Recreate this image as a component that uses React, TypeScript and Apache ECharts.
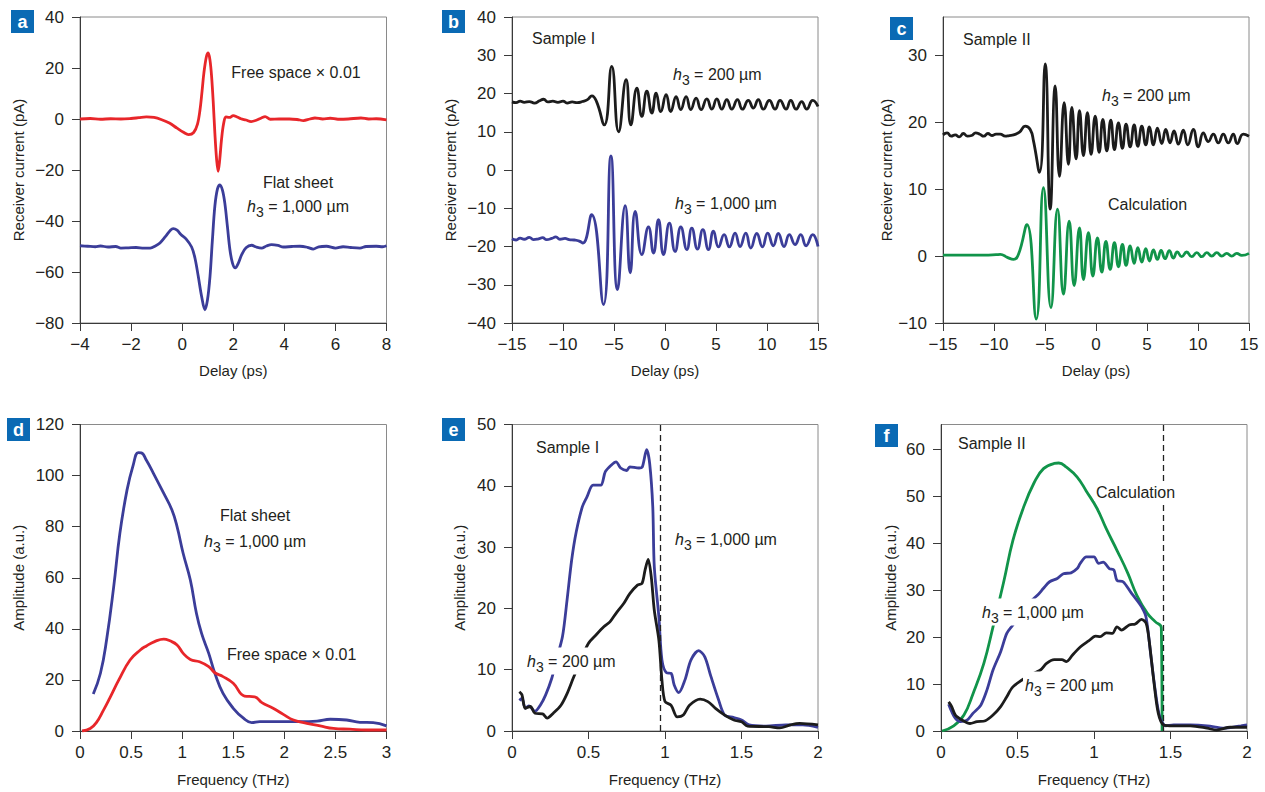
import React, { useEffect, useRef } from 'react';
import * as echarts from 'echarts';

// ---------- data ----------
const aRed: number[][] = [[-4,0],[-3.6,0.2],[-3.2,-0.1],[-2.8,0.1],[-2.4,0],[-2,0.2],[-1.7,0.5],[-1.4,0.8],[-1.1,0.6],[-0.8,-0.3],[-0.5,-1.6],[-0.2,-3.6],[0.05,-5.2],[0.25,-6.1],[0.45,-5.3],[0.6,-2],[0.7,3.7],[0.78,11],[0.85,18],[0.95,24.5],[1.02,25.9],[1.09,23],[1.15,17],[1.22,6],[1.28,-5.5],[1.35,-16],[1.41,-20.5],[1.47,-16],[1.54,-8.1],[1.62,-2],[1.71,0.8],[1.85,0.6],[2.0,1.3],[2.15,0.8],[2.3,0.1],[2.5,-0.4],[2.7,-1.0],[2.9,-0.5],[3.1,0.4],[3.25,0.9],[3.45,-0.1],[3.8,0],[4.2,0],[4.5,-0.2],[4.75,-0.6],[5.0,0],[5.2,0.4],[5.5,0],[5.8,0.3],[6.1,-0.1],[6.5,0],[7.0,0.4],[7.3,0],[7.6,0.1],[8,-0.3]];
const aBlue: number[][] = [[-4,-49.7],[-3.7,-49.9],[-3.4,-50.1],[-3.2,-49.8],[-2.9,-50.2],[-2.6,-50.0],[-2.4,-50.6],[-2.1,-50.5],[-1.8,-50.4],[-1.5,-50.6],[-1.25,-50.6],[-1.05,-49.8],[-0.87,-48.6],[-0.65,-46],[-0.45,-43.5],[-0.35,-43],[-0.2,-43.6],[-0.05,-45.3],[0.15,-47],[0.37,-50.2],[0.5,-54.5],[0.63,-61.7],[0.76,-69.5],[0.89,-74.8],[0.99,-71],[1.09,-61.7],[1.18,-48],[1.28,-34.2],[1.38,-27.5],[1.48,-25.8],[1.58,-28],[1.67,-33],[1.77,-42],[1.87,-51.3],[1.97,-56.5],[2.08,-58.4],[2.2,-56.5],[2.33,-53.2],[2.5,-50.5],[2.72,-49.5],[2.9,-50.2],[3.11,-50.6],[3.3,-49.8],[3.5,-49.3],[3.75,-49.6],[3.96,-50.2],[4.3,-50.0],[4.61,-49.9],[4.9,-50.3],[5.13,-51],[5.35,-50.1],[5.65,-49.9],[6.0,-50.6],[6.3,-50.1],[6.6,-50.4],[6.96,-50.6],[7.2,-50.0],[7.6,-49.9],[7.85,-50.1],[8,-49.7]];

const bBlack: number[][] = [[-15,17.8],[-14.6,17.6],[-14.2,18.0],[-13.8,17.7],[-13.3,17.9],[-12.8,17.5],[-12.3,18.1],[-11.9,18.5],[-11.5,17.8],[-11.0,18.0],[-10.5,17.7],[-10.0,18.0],[-9.6,17.5],[-9.1,17.8],[-8.6,17.6],[-8.1,17.9],[-7.6,18.4],[-7.17,19.4],[-6.7,17.8],[-5.95,11.8],[-5.22,27.1],[-4.55,10],[-3.81,23.6],[-3.35,11.8],[-2.76,21.4],[-2.27,14.0],[-1.78,20.6],[-1.29,14.9],[-0.87,20.1],[-0.41,15.3],[0.11,19.7],[0.57,15.3],[1.09,19.2],[1.55,15.8],[2.07,19.2],[2.53,15.8],[3.05,18.8],[3.54,15.8],[4.1,18.6],[4.59,15.9],[5.08,18.6],[5.57,15.9],[6.06,18.4],[6.55,15.9],[7.1,18.4],[7.59,15.9],[8.17,18.2],[8.66,16.2],[9.15,18.4],[9.64,15.9],[10.23,18.2],[10.79,15.9],[11.28,18.2],[11.87,15.9],[12.33,18.2],[12.85,15.9],[13.4,17.9],[13.89,15.9],[14.48,18.2],[15,16.6]];
const bBlue: number[][] = [[-15,-18.0],[-14.6,-18.3],[-14.2,-17.8],[-13.8,-18.1],[-13.3,-17.6],[-12.9,-18.2],[-12.4,-18.0],[-12.0,-17.7],[-11.6,-18.2],[-11.1,-17.9],[-10.7,-17.5],[-10.3,-18.1],[-9.8,-17.9],[-9.4,-18.2],[-8.9,-18.3],[-8.4,-18.6],[-8.05,-19.1],[-7.2,-11.7],[-6.03,-35.2],[-5.3,3.7],[-4.66,-31.3],[-3.9,-9.3],[-3.41,-26.9],[-2.92,-10.8],[-2.27,-22.1],[-1.62,-14.9],[-1.13,-21.7],[-0.64,-13],[-0.15,-22.1],[0.43,-13.9],[0.99,-21.3],[1.55,-14.9],[2.14,-20.8],[2.63,-15.2],[3.18,-20.7],[3.71,-15.6],[4.26,-20.8],[4.75,-16],[5.24,-20.1],[5.8,-16.9],[6.31,-20.1],[6.87,-16.5],[7.36,-20],[7.92,-16.5],[8.41,-20.4],[9.0,-16.6],[9.55,-20.1],[10.07,-16.5],[10.62,-19.8],[11.11,-16.6],[11.67,-20],[12.19,-16.9],[12.75,-19.5],[13.31,-16.9],[13.83,-19.8],[14.48,-16.9],[15,-20]];

const cBlack: number[][] = [[-15,18.1],[-14.6,18.4],[-14.2,17.9],[-13.8,18.1],[-13.4,17.8],[-13.0,18.3],[-12.6,17.9],[-12.2,18.0],[-11.8,18.4],[-11.4,18.2],[-11.0,17.9],[-10.6,18.3],[-10.2,18.0],[-9.8,18.2],[-9.39,18.2],[-8.9,17.9],[-8.5,18.0],[-8.08,18.1],[-7.5,18.5],[-6.94,19.4],[-6.45,18.9],[-6.13,17.2],[-5.54,12.5],[-4.98,28.7],[-4.49,7],[-4.0,25.4],[-3.58,11.9],[-3.12,22.9],[-2.7,13.7],[-2.37,22.2],[-1.95,14.5],[-1.62,21.7],[-1.23,15],[-0.84,21.4],[-0.48,15.2],[-0.08,20.9],[0.31,15.5],[0.67,20.4],[1.06,15.7],[1.45,20.3],[1.81,15.9],[2.2,19.9],[2.59,16.1],[2.95,19.7],[3.35,16.3],[3.74,19.6],[4.1,16.4],[4.49,19.4],[4.88,16.6],[5.24,19.3],[5.63,16.6],[6.02,19.1],[6.45,16.8],[6.84,18.9],[7.26,16.9],[7.65,18.7],[8.08,16.7],[8.56,18.8],[9.0,16.6],[9.54,18.9],[10.03,16.3],[10.52,18.4],[11.01,17.1],[11.5,18.2],[11.99,16.9],[12.48,18.2],[12.97,16.9],[13.46,18.2],[13.85,16.8],[14.44,18.2],[15,17.9]];
const cGreen: number[][] = [[-15,0.15],[-13,0.15],[-11,0.15],[-9.8,0.2],[-9.39,0.25],[-8.7,-0.2],[-8.08,-0.5],[-7.6,0.25],[-6.77,4.7],[-5.86,-9.4],[-5.15,10.2],[-4.42,-7.7],[-3.77,7.0],[-3.19,-5.7],[-2.63,5.2],[-2.14,-4.4],[-1.62,4.2],[-1.23,-3.5],[-0.74,3.5],[-0.31,-3.0],[0.14,2.7],[0.57,-2.4],[0.97,2.2],[1.39,-2.0],[1.81,2.0],[2.2,-1.6],[2.59,1.75],[2.95,-1.4],[3.35,1.5],[3.74,-1.1],[4.1,1.25],[4.49,-0.9],[4.88,1.1],[5.24,-0.75],[5.63,0.9],[6.02,-0.5],[6.38,0.85],[6.77,-0.4],[7.19,0.8],[7.58,-0.3],[7.97,0.6],[8.4,-0.1],[8.89,0.6],[9.38,-0.1],[9.88,0.5],[10.37,-0.1],[10.86,0.5],[11.35,0],[11.84,0.5],[12.33,0],[12.82,0.4],[13.31,0],[13.8,0.4],[14.29,0.1],[15,0.4]];

const dBlue: number[][] = [[0.13,14.5],[0.2,22.6],[0.26,35.6],[0.33,56.5],[0.39,77.3],[0.46,94.3],[0.52,104],[0.57,109],[0.6,108.9],[0.65,106],[0.72,100.8],[0.82,93],[0.9,86.5],[0.95,80],[1.01,69.5],[1.08,59.1],[1.14,46],[1.19,38.2],[1.26,30.4],[1.32,22.6],[1.4,14.7],[1.5,8.9],[1.6,5],[1.68,3.3],[1.76,3.7],[1.99,3.7],[2.15,3.7],[2.32,3.9],[2.45,4.6],[2.61,4.3],[2.74,3.4],[2.87,3.3],[3,2]];
const dRed: number[][] = [[0.02,0],[0.1,1],[0.16,3.3],[0.23,8.2],[0.29,12.8],[0.38,20],[0.49,27.8],[0.59,31.7],[0.65,33.3],[0.73,35],[0.82,36],[0.88,35.3],[0.95,33.7],[1.01,30.4],[1.08,28],[1.17,27.1],[1.26,25.2],[1.32,22.8],[1.4,21.3],[1.5,18.7],[1.61,13.7],[1.71,13.4],[1.78,11.1],[1.89,8.9],[1.99,6.5],[2.09,4.3],[2.22,3],[2.35,2],[2.48,1],[2.64,0.7],[2.8,0.4],[3,0.4]];

const eBlue: number[][] = [[0.048,5],[0.065,5.3],[0.087,3.7],[0.11,4.1],[0.15,3.2],[0.185,4.2],[0.22,5.9],[0.26,8.6],[0.29,11.6],[0.33,15.4],[0.36,21.4],[0.39,27.9],[0.42,32.5],[0.46,36.6],[0.49,38.2],[0.53,40.1],[0.58,40.1],[0.61,42.3],[0.65,43.4],[0.68,43.9],[0.71,42.9],[0.75,42.5],[0.77,43.1],[0.83,42.9],[0.85,43],[0.88,45.9],[0.9,43.6],[0.92,36.6],[0.93,26.8],[0.96,18.6],[0.98,11.6],[1.01,9.5],[1.04,9.4],[1.06,7.5],[1.09,6.25],[1.13,8.3],[1.17,11.6],[1.22,13.1],[1.26,12.1],[1.3,8.9],[1.35,5.1],[1.39,2.6],[1.45,2.2],[1.5,1.8],[1.55,1],[1.66,0.8],[1.79,1],[1.9,1],[2,0.6]];
const eBlack: number[][] = [[0.048,6.4],[0.065,5.9],[0.087,3.7],[0.12,4],[0.15,2.9],[0.2,2.8],[0.23,2.1],[0.27,2.9],[0.32,4.2],[0.36,6.1],[0.4,8.6],[0.45,11.6],[0.5,14.3],[0.55,15.7],[0.6,17],[0.64,17.8],[0.68,19.2],[0.73,20.8],[0.77,22.4],[0.82,23.8],[0.85,24.1],[0.87,26.3],[0.89,28],[0.91,25.2],[0.93,19.7],[0.96,14.8],[0.98,8.3],[1.0,4.8],[1.04,4.2],[1.08,2.3],[1.12,2.6],[1.16,4.2],[1.23,5.2],[1.28,4.8],[1.33,3.7],[1.39,2.6],[1.45,1.8],[1.5,1.5],[1.54,0.8],[1.68,0.7],[1.75,0.5],[1.82,1],[1.88,1.25],[2,1]];

const fGreen: number[][] = [[0.007,0],[0.083,1.1],[0.15,3.4],[0.21,8],[0.28,14.4],[0.34,22.2],[0.41,31.8],[0.47,40.6],[0.54,47.7],[0.61,53],[0.67,55.9],[0.74,57],[0.77,57.1],[0.82,56.2],[0.89,54.1],[0.95,51.1],[1.02,47.4],[1.08,43.1],[1.15,38.5],[1.22,33.7],[1.28,28.9],[1.35,25],[1.4,23.3],[1.44,22],[1.445,0]];
const fBlue: number[][] = [[0.05,5.7],[0.07,4.1],[0.094,2.7],[0.126,2],[0.17,2.3],[0.21,3.8],[0.26,5.5],[0.3,8.7],[0.34,13],[0.39,16.9],[0.43,20.8],[0.47,22.6],[0.55,26.5],[0.63,28.9],[0.67,30.4],[0.71,31.8],[0.76,32.5],[0.8,33.5],[0.85,33.7],[0.89,34.6],[0.91,35.7],[0.95,37.1],[1.0,37.1],[1.03,35.7],[1.06,36],[1.1,34.6],[1.13,34.3],[1.15,32.1],[1.19,31.8],[1.24,29.6],[1.28,27.9],[1.31,26.5],[1.34,24.3],[1.37,16.5],[1.4,8.7],[1.43,3],[1.47,1.1],[1.52,1.3],[1.63,1.3],[1.74,1.1],[1.85,0.6],[1.96,1.1],[2,1.3]];
const fBlack: number[][] = [[0.05,6.2],[0.07,5.2],[0.094,3.4],[0.14,2.3],[0.19,1.6],[0.235,2],[0.29,2.2],[0.34,3.4],[0.39,5.2],[0.43,7.3],[0.47,9.4],[0.56,11.5],[0.65,13],[0.69,14.4],[0.74,15.2],[0.79,15.2],[0.82,14.8],[0.86,16.2],[0.91,17.9],[0.965,19.2],[1.01,20.2],[1.04,20.1],[1.08,20.9],[1.12,20.8],[1.15,22.2],[1.18,21.5],[1.23,22.6],[1.27,22.8],[1.31,23.8],[1.34,23],[1.36,19.4],[1.39,10.9],[1.42,3.8],[1.455,1.3],[1.52,1.1],[1.63,1.1],[1.74,0.6],[1.8,0.2],[1.89,0.8],[2,0.8]];

const eCutoff = 0.975;
const fCutoff = 1.445;

const ticksA_x = [-4, -2, 0, 2, 4, 6, 8];
const ticksA_y = [-80, -60, -40, -20, 0, 20, 40];
const ticksBC_x = [-15, -10, -5, 0, 5, 10, 15];
const ticksB_y = [-40, -30, -20, -10, 0, 10, 20, 30, 40];
const ticksC_y = [-10, 0, 10, 20, 30];
const ticksD_x = [0, 0.5, 1, 1.5, 2, 2.5, 3];
const ticksD_y = [0, 20, 40, 60, 80, 100, 120];
const ticksEF_x = [0, 0.5, 1, 1.5, 2];
const ticksE_y = [0, 10, 20, 30, 40, 50];
const ticksF_y = [0, 10, 20, 30, 40, 50, 60];

// ---------- style ----------
const FONT = "'Liberation Sans Narrow', 'Arial Narrow', 'Liberation Sans', Arial, sans-serif";
const TXT = '#231f20';
const RED = '#e8262a';
const BLUE = '#3b3d99';
const GREEN = '#11944a';
const BLACK = '#1c1c1c';
const AX = '#3a3a3a';

const fmt = (v: number) => String(v).replace('-', '\u2212');

function xAx(i: number, min: number, max: number, step: number, ticks: number[], name: string, gap: number) {
  return {
    type: 'value', gridIndex: i, min, max, interval: step,
    name, nameLocation: 'middle', nameGap: gap,
    nameTextStyle: { fontFamily: FONT, fontSize: 15, color: TXT },
    axisLine: { show: true, onZero: false, lineStyle: { color: AX, width: 1 } },
    axisTick: { show: true, inside: false, length: 8, lineStyle: { color: AX }, customValues: ticks },
    axisLabel: { customValues: ticks, formatter: fmt, fontFamily: FONT, fontSize: 17, color: TXT, margin: 13 },
    splitLine: { show: false },
  };
}
function yAx(i: number, min: number, max: number, step: number, ticks: number[], name: string, gap: number) {
  return {
    type: 'value', gridIndex: i, min, max, interval: step,
    name, nameLocation: 'middle', nameGap: gap,
    nameTextStyle: { fontFamily: FONT, fontSize: 15, color: TXT },
    axisLine: { show: true, onZero: false, lineStyle: { color: AX, width: 1 } },
    axisTick: { show: true, inside: false, length: 8, lineStyle: { color: AX }, customValues: ticks },
    axisLabel: { customValues: ticks, formatter: fmt, fontFamily: FONT, fontSize: 17, color: TXT, margin: 16 },
    splitLine: { show: false },
  };
}
function line(i: number, data: number[][], color: string, smooth: number, extra: any = {}) {
  return {
    type: 'line', xAxisIndex: i, yAxisIndex: i, data, showSymbol: false, symbol: 'none',
    smooth, lineStyle: { color, width: 2.8 }, z: 3, ...extra,
  };
}
function vline(x: number) {
  return {
    silent: true, symbol: 'none', label: { show: false },
    lineStyle: { color: '#222', type: [6, 4], width: 1.3 },
    data: [{ xAxis: x }],
  };
}
const rich = {
  i: { fontStyle: 'italic', fontFamily: FONT, fontSize: 16, color: TXT },
  s: { fontFamily: FONT, fontSize: 14, color: TXT, padding: [11, 0, 0, 0] },
  n: { fontFamily: FONT, fontSize: 16, color: TXT },
};
function txt(x: number, y: number, text: string, align = 'left', bg = false) {
  return {
    type: 'text', x, y, z: 100,
    style: {
      text, fill: TXT, font: `16px ${FONT}`, textAlign: align, textVerticalAlign: 'middle', rich,
      backgroundColor: bg ? '#ffffff' : undefined, padding: bg ? [1, 2, 1, 2] : 0,
    },
  };
}
const h3 = (rest: string) => `{i|h}{s|3}{n| = ${rest}}`;
function badge(x: number, y: number, letter: string) {
  return {
    type: 'group', x, y, z: 100,
    children: [
      { type: 'rect', shape: { x: 0, y: 0, width: 23, height: 23 }, style: { fill: '#0a6ab4' } },
      { type: 'text', x: 11.5, y: 12, style: { text: letter, fill: '#fff', font: `bold 18px 'Liberation Sans', Arial, sans-serif`, textAlign: 'center', textVerticalAlign: 'middle' } },
    ],
  };
}

export default function App() {
  const ref = useRef<HTMLDivElement>(null);
  useEffect(() => {
    if (!ref.current) return;
    const chart = echarts.init(ref.current, undefined, { renderer: 'svg' });
    const gb = { show: true, borderColor: '#8a8a8a', borderWidth: 1, backgroundColor: 'transparent' };
    chart.setOption({
      animation: false,
      backgroundColor: '#ffffff',
      grid: [
        { left: 80, top: 17, width: 306.5, height: 306, ...gb },
        { left: 512, top: 17, width: 306, height: 306, ...gb },
        { left: 943, top: 17, width: 306, height: 306, ...gb },
        { left: 80, top: 424.5, width: 306.5, height: 306.5, ...gb },
        { left: 512, top: 424.5, width: 306, height: 306.5, ...gb },
        { left: 941, top: 424.5, width: 306, height: 306.5, ...gb },
      ],
      xAxis: [
        xAx(0, -4, 8, 2, ticksA_x, 'Delay (ps)', 40),
        xAx(1, -15, 15, 5, ticksBC_x, 'Delay (ps)', 40),
        xAx(2, -15, 15, 5, ticksBC_x, 'Delay (ps)', 40),
        xAx(3, 0, 3, 0.5, ticksD_x, 'Frequency (THz)', 41),
        xAx(4, 0, 2, 0.5, ticksEF_x, 'Frequency (THz)', 41),
        xAx(5, 0, 2, 0.5, ticksEF_x, 'Frequency (THz)', 41),
      ],
      yAxis: [
        yAx(0, -80, 40, 20, ticksA_y, 'Receiver current (pA)', 54),
        yAx(1, -40, 40, 10, ticksB_y, 'Receiver current (pA)', 54),
        yAx(2, -10, 35.7, 10, ticksC_y, 'Receiver current (pA)', 45),
        yAx(3, 0, 120, 20, ticksD_y, 'Amplitude (a.u.)', 54),
        yAx(4, 0, 50, 10, ticksE_y, 'Amplitude (a.u.)', 45),
        yAx(5, 0, 65.3, 10, ticksF_y, 'Amplitude (a.u.)', 43),
      ],
      series: [
        line(0, aRed, RED, 0.35),
        line(0, aBlue, BLUE, 0.35),
        line(1, bBlack, BLACK, 0.5),
        line(1, bBlue, BLUE, 0.5),
        line(2, cBlack, BLACK, 0.5),
        line(2, cGreen, GREEN, 0.5),
        line(3, dBlue, BLUE, 0.45),
        line(3, dRed, RED, 0.45),
        line(4, eBlue, BLUE, 0.3, { markLine: vline(eCutoff) }),
        line(4, eBlack, BLACK, 0.3),
        line(5, fGreen, GREEN, 0.45, { markLine: vline(fCutoff) }),
        line(5, fBlue, BLUE, 0.3),
        line(5, fBlack, BLACK, 0.3),
      ],
      graphic: [
        badge(11, 10, 'a'), badge(442, 10, 'b'), badge(890, 17, 'c'),
        badge(7, 418, 'd'), badge(442, 418, 'e'), badge(875, 424, 'f'),
        txt(296, 72, 'Free space \u00d7 0.01', 'center'),
        txt(298, 182, 'Flat sheet', 'center'),
        txt(298, 206, h3('1,000 \u00b5m'), 'center'),
        txt(532, 38, 'Sample I'),
        txt(673, 74, h3('200 \u00b5m')),
        txt(675, 203, h3('1,000 \u00b5m')),
        txt(963, 39, 'Sample II'),
        txt(1102, 95, h3('200 \u00b5m')),
        txt(1108, 204, 'Calculation'),
        txt(255, 515, 'Flat sheet', 'center'),
        txt(255, 541, h3('1,000 \u00b5m'), 'center'),
        txt(227, 654, 'Free space \u00d7 0.01'),
        txt(536, 447, 'Sample I'),
        txt(675, 539, h3('1,000 \u00b5m')),
        txt(525, 661, h3('200 \u00b5m'), 'left', true),
        txt(958, 443, 'Sample II'),
        txt(1094, 492, 'Calculation', 'left', true),
        txt(980, 612, h3('1,000 \u00b5m'), 'left', true),
        txt(1023, 685, h3('200 \u00b5m'), 'left', true),
      ],
    });
    return () => chart.dispose();
  }, []);
  return <div ref={ref} style={{ position: 'fixed', left: 0, top: 0, width: 1265, height: 792, background: '#fff' }} />;
}
